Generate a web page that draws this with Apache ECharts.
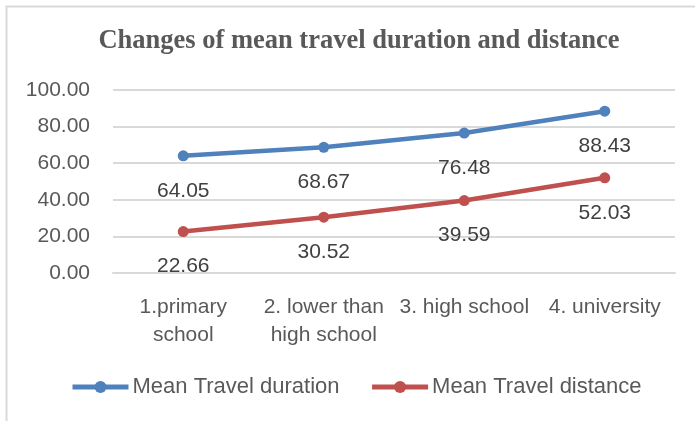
<!DOCTYPE html>
<html>
<head>
<meta charset="UTF-8">
<title>Changes of mean travel duration and distance</title>
<style>
  body, html {margin:0; padding:0; background:#fff;}
  #main {width:695px; height:421px;}
</style>
<script src="https://cdn.jsdelivr.net/npm/echarts@6/dist/echarts.min.js"></script>
</head>
<body>
<div id="main"></div>
<script>
    // data
    var categories = ['1.primary\nschool', '2. lower than\nhigh school', '3. high school', '4. university'];
    var durationValues = [64.05, 68.67, 76.48, 88.43];
    var distanceValues = [22.66, 30.52, 39.59, 52.03];
    var yTicks = [0, 20, 40, 60, 80, 100];

    var chart = echarts.init(document.getElementById('main'));

    var labelStyle = {
        show: true,
        position: 'bottom',
        distance: 19,
        color: '#404040',
        fontSize: 21,
        fontFamily: 'Liberation Sans',
        formatter: function (p) { return p.value.toFixed(2); }
    };

    chart.setOption({
        animation: false,
        backgroundColor: '#fff',
        graphic: [
            // frame lines (top and left)
            {type: 'line', shape: {x1: 6, y1: 6.5, x2: 695, y2: 6.5}, style: {stroke: '#d9d9d9', lineWidth: 2}},
            {type: 'line', shape: {x1: 6.5, y1: 6, x2: 6.5, y2: 421}, style: {stroke: '#d9d9d9', lineWidth: 2}}
        ],
        title: {
            text: 'Changes of mean travel duration and distance',
            left: 354,
            textAlign: 'center',
            top: 23,
            textStyle: {
                fontFamily: 'Liberation Serif',
                fontSize: 26.5,
                fontWeight: 'bold',
                color: '#595959'
            }
        },
        legend: {
            left: 65,
            top: 371,
            itemWidth: 56,
            itemHeight: 15,
            itemGap: 30,
            lineStyle: {width: 5},
            textStyle: {color: '#595959', fontSize: 22, fontFamily: 'Liberation Sans', padding: [0, 0, 0, -1]},
            data: ['Mean Travel duration', 'Mean Travel distance']
        },
        grid: {left: 113, right: 20, top: 90, bottom: 148},
        xAxis: {
            type: 'category',
            data: categories,
            boundaryGap: true,
            axisLine: {lineStyle: {color: '#d9d9d9', width: 2}},
            axisTick: {show: false},
            axisLabel: {
                color: '#595959',
                fontSize: 21,
                fontFamily: 'Liberation Sans',
                lineHeight: 28,
                margin: 20,
                interval: 0
            }
        },
        yAxis: {
            type: 'value',
            min: yTicks[0],
            max: yTicks[yTicks.length - 1],
            interval: 20,
            axisLine: {show: false},
            axisTick: {show: false},
            splitLine: {lineStyle: {color: '#d9d9d9', width: 2}},
            axisLabel: {
                color: '#595959',
                fontSize: 21,
                fontFamily: 'Liberation Sans',
                margin: 23,
                formatter: function (v) { return v.toFixed(2); }
            }
        },
        series: [
            {
                name: 'Mean Travel duration',
                type: 'line',
                data: durationValues,
                symbol: 'circle',
                symbolSize: 11,
                lineStyle: {width: 4.5, color: '#4f81bd'},
                itemStyle: {color: '#4f81bd'},
                label: labelStyle
            },
            {
                name: 'Mean Travel distance',
                type: 'line',
                data: distanceValues,
                symbol: 'circle',
                symbolSize: 11,
                lineStyle: {width: 4.5, color: '#c0504d'},
                itemStyle: {color: '#c0504d'},
                label: labelStyle
            }
        ]
    });
</script>
</body>
</html>
